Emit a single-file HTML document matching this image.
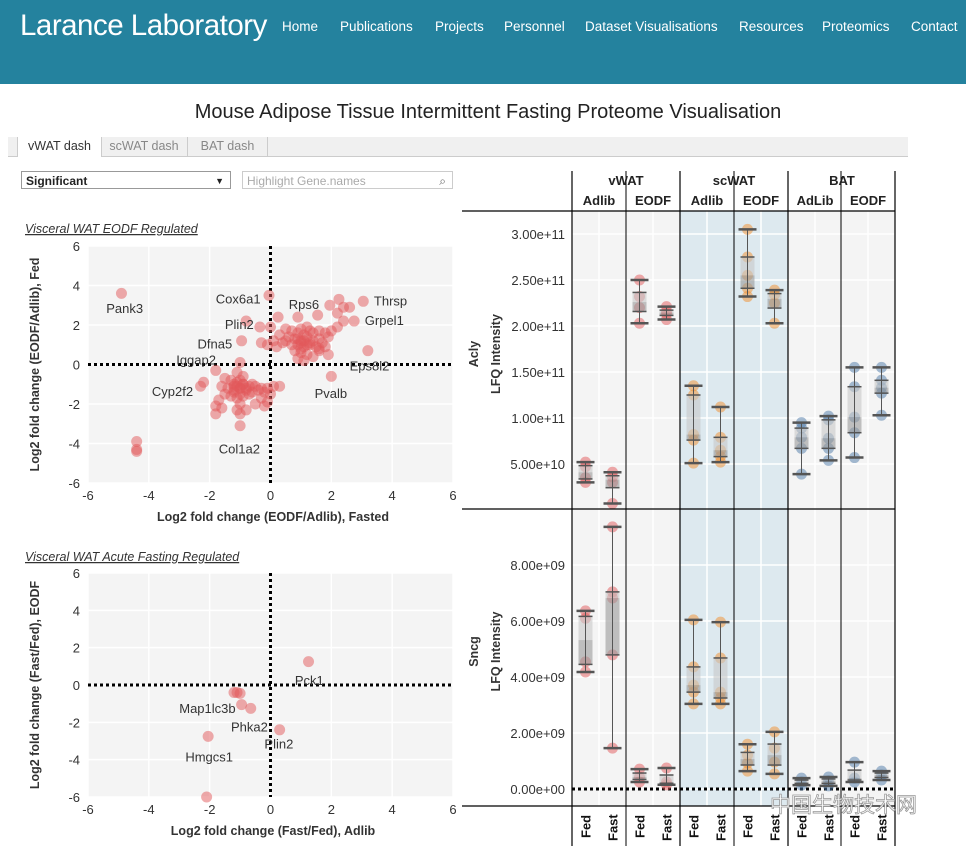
<!DOCTYPE html>
<html><head><meta charset="utf-8">
<style>
body{margin:0;width:966px;height:846px;overflow:hidden;background:#fff;font-family:"Liberation Sans",sans-serif;position:relative}
#hdr{position:absolute;left:0;top:0;width:966px;height:84px;background:#24829e}
#hdr .t{position:absolute;left:20px;top:9px;color:#fff;font-size:29.5px;letter-spacing:-0.5px}
#hdr .n{position:absolute;top:19px;color:#fff;font-size:13.5px}
.title{position:absolute;top:101px;left:0;width:976px;text-align:center;font-size:20px;color:#222}
#tabs{position:absolute;left:8px;top:137px;width:900px;height:19px;background:#f0f0f0;border-bottom:1px solid #ccc}
.tab{position:absolute;top:0;height:19px;line-height:19px;font-size:12.5px;color:#888;border-right:1px solid #ccc;text-align:center}
.ctl{position:absolute;top:171px;height:18px;border:1px solid #999;font-size:12px;line-height:18px;padding-left:4px;box-sizing:border-box}
svg{position:absolute;left:0;top:0}
</style></head><body>
<div id="hdr">
<div class="t">Larance Laboratory</div>
<div class="n" style="left:282px">Home</div>
<div class="n" style="left:340px">Publications</div>
<div class="n" style="left:435px">Projects</div>
<div class="n" style="left:504px">Personnel</div>
<div class="n" style="left:585px">Dataset Visualisations</div>
<div class="n" style="left:739px">Resources</div>
<div class="n" style="left:822px">Proteomics</div>
<div class="n" style="left:911px">Contact</div>
</div>
<div class="title">Mouse Adipose Tissue Intermittent Fasting Proteome Visualisation</div>
<div id="tabs">
<div class="tab" style="left:9px;width:83px;background:#fff;color:#333;border-left:1px solid #ccc;height:20px">vWAT dash</div>
<div class="tab" style="left:93px;width:86px">scWAT dash</div>
<div class="tab" style="left:180px;width:79px">BAT dash</div>
</div>
<div class="ctl" style="left:21px;width:210px;font-weight:bold;color:#222">Significant<span style="position:absolute;right:6px;font-size:9px">▼</span></div>
<div class="ctl" style="left:242px;width:211px;border-color:#ccc;color:#aaa">Highlight Gene.names<span style="position:absolute;right:6px;color:#666">⌕</span></div>
<svg id="s" width="966" height="846"></svg>
<script>
// ---- scatter 1 data ----
const s1x=[-4.9,-4.4,-4.4,-4.4,-0.05,-0.8,-0.95,-1.0,-2.3,-2.2,-1.0,2.0,3.2,3.05,2.75,2.25,1.95,2.6,2.4,2.2,2.4,1.55,0.25,0.9,0.0,-0.35,0.5,0.7,1.0,1.2,1.4,1.6,1.8,1.9,0.3,0.6,0.8,1.0,1.2,1.4,1.6,1.7,0.1,0.4,0.7,0.9,1.1,1.3,1.5,-0.3,-0.1,0.2,0.5,1.0,1.2,0.8,1.6,0.9,1.1,1.4,1.6,2.0,2.2,1.9,1.8,1.1,0.9,1.3,-1.1,-0.9,-1.8,-1.5,-1.3,-1.1,-0.9,-0.7,-0.5,-0.3,-0.1,0.1,0.3,-1.6,-1.4,-1.2,-1.0,-0.8,-0.6,-0.4,-0.2,0.0,-1.3,-1.1,-0.9,-0.7,-1.5,-1.7,-1.8,-1.6,-1.0,-1.1,-0.8,-0.5,-0.2,-0.1,-1.8,-1.0,-0.3,-1.2,-1.0,-1.2,-1.0,-0.8,-0.6,1.0,1.1,1.2,0.9,1.3,1.0,-1.1,-1.0,-0.9,-1.2];
const s1y=[3.6,-3.9,-4.3,-4.4,3.5,2.2,1.2,0.1,-1.1,-0.9,-3.1,-0.6,0.7,3.2,2.2,3.3,3.0,2.9,2.9,2.6,2.2,2.5,2.4,2.4,1.9,1.9,1.8,1.7,1.8,1.9,1.6,1.7,1.6,1.4,1.5,1.4,1.3,1.2,1.4,1.2,1.3,1.1,1.2,1.1,1.0,1.0,0.9,1.0,0.9,1.1,1.0,0.9,1.2,0.6,0.5,0.7,0.8,0.3,0.2,0.4,0.7,1.7,1.9,0.5,0.9,1.5,1.6,1.7,-0.4,-0.6,-0.3,-0.7,-0.8,-0.9,-1.0,-1.1,-1.1,-1.2,-1.2,-1.1,-1.1,-1.1,-1.2,-1.3,-1.2,-1.3,-1.4,-1.3,-1.4,-1.5,-1.6,-1.7,-1.6,-1.5,-1.5,-1.8,-2.1,-2.2,-2.0,-2.3,-2.3,-2.0,-2.1,-1.9,-2.5,-2.5,-1.7,-1.0,-0.8,-1.4,-1.5,-1.2,-1.0,1.1,1.2,1.0,1.3,1.1,0.8,-1.1,-1.2,-1.0,-1.1];
const s1labels=["Pank3","Cox6a1","Plin2","Dfna5","Iggap2","Cyp2f2","Col1a2","Pvalb","Eps8l2","Thrsp","Grpel1","Rps6"];
const s1lx=[-5.4,-1.8,-1.5,-2.4,-3.1,-3.9,-1.7,1.45,2.6,3.4,3.1,0.6];
const s1ly=[2.6,3.1,1.8,0.8,0.0,-1.6,-4.5,-1.7,-0.3,3.0,2.0,2.8];
// ---- scatter 2 data ----
const s2x=[1.25,-1.2,-1.1,-1.0,-0.95,-0.65,0.3,-2.05,-2.1];
const s2y=[1.25,-0.4,-0.4,-0.45,-1.05,-1.25,-2.4,-2.75,-6.0];
const s2labels=["Pck1","Map1lc3b","Phka2","Plin2","Hmgcs1"];
const s2lx=[0.8,-3.0,-1.3,-0.2,-2.8];
const s2ly=[0.0,-1.5,-2.5,-3.4,-4.1];
// ---- box plot data (Acly e9, Sncg e9) ----
const groups=["vWAT","scWAT","BAT"];
const diets=["Adlib","EODF","Adlib","EODF","AdLib","EODF"];
const conds=["Fed","Fast"];
const aclyVals=[[52,47,35,30],[41,36,30,7],[250,232,220,203],[221,216,213,207],[135,125,82,76,51],[112,79,65,58,52],[305,275,255,241,232],[239,234,225,203],[95,89,79,67,39],[102,98,78,67,54],[155,134,101,84,57],[155,141,133,127,103]];
const sncgVals=[[6.36,6.1,4.54,4.18],[9.36,7.04,6.82,4.79,1.46],[0.71,0.43,0.25],[0.75,0.25,0.15],[6.04,4.36,3.71,3.46,3.04],[5.96,4.68,3.46,3.25,3.04],[1.6,1.21,0.93,0.64],[2.04,1.46,0.96,0.54],[0.39,0.25,0.14],[0.43,0.29,0.11],[0.96,0.39,0.25],[0.64,0.5,0.32]];
const aclyTicks=[50,100,150,200,250,300];
const aclyTickLabels=["5.00e+10","1.00e+11","1.50e+11","2.00e+11","2.50e+11","3.00e+11"];
const sncgTicks=[0,2,4,6,8];
const sncgTickLabels=["0.00e+00","2.00e+09","4.00e+09","6.00e+09","8.00e+09"];
const scTicks=[-6,-4,-2,0,2,4,6];

const svg=document.getElementById('s');
const NS='http://www.w3.org/2000/svg';
function mk(t,a,p){const e=document.createElementNS(NS,t);for(const k in a)e.setAttribute(k,a[k]);(p||svg).appendChild(e);return e;}
function tx(x,y,s,a){const e=mk('text',Object.assign({x:x,y:y,'font-family':'Liberation Sans, sans-serif','font-size':12.5,fill:'#333'},a||{}));e.textContent=s;return e;}

function scatter(top,bot,xs,ys,lab,lx,ly,title,ytitle,xtitle,ttlY,name){
  const L=88,R=453;
  const sx=v=>L+(v+6)*(R-L)/12, sy=v=>bot-(v+6)*(bot-top)/12;
  let e=tx(25,ttlY,title,{'font-style':'italic','font-size':12.5,'text-decoration':'underline','fill':'#333'});
  
  
  e=mk('rect',{x:L,y:top,width:R-L,height:bot-top,fill:'#f4f4f4'});
  
  
  scTicks.forEach(t=>{
    mk('line',{x1:sx(t),x2:sx(t),y1:top,y2:bot,stroke:'#fff','stroke-width':1.5});
    mk('line',{x1:L,x2:R,y1:sy(t),y2:sy(t),stroke:'#fff','stroke-width':1.5});
    e=tx(sx(t),bot+17,String(t),{'text-anchor':'middle','font-size':13});
    
    
    e=tx(80,sy(t)+5,String(t),{'text-anchor':'end','font-size':13});
    
    
  });
  mk('line',{x1:L,x2:R,y1:sy(0),y2:sy(0),stroke:'#000','stroke-width':3,'stroke-dasharray':'3 3'});
  mk('line',{x1:sx(0),x2:sx(0),y1:top,y2:bot,stroke:'#000','stroke-width':3,'stroke-dasharray':'3 3'});
  xs.forEach((v,i)=>{
    e=mk('circle',{cx:sx(v),cy:sy(ys[i]),r:5.5,fill:'#e15759','fill-opacity':0.5});
    
    
  });
  lab.forEach((s,i)=>{
    e=tx(sx(lx[i]),sy(ly[i]),s,{'font-size':13,fill:'#333'});
    
    
  });
  e=tx(273,bot+38,xtitle,{'text-anchor':'middle','font-weight':'bold','font-size':12.5});
  
  
  e=tx(0,0,ytitle,{'text-anchor':'middle','font-weight':'bold','font-size':12.5,transform:`translate(39,${(top+bot)/2}) rotate(-90)`});
  
  
}
scatter(246,483,s1x,s1y,s1labels,s1lx,s1ly,'Visceral WAT EODF Regulated','Log2 fold change (EODF/Adlib), Fed','Log2 fold change (EODF/Adlib), Fasted',233,'scatter-eodf');
scatter(573,797,s2x,s2y,s2labels,s2lx,s2ly,'Visceral WAT Acute Fasting Regulated','Log2 fold change (Fast/Fed), EODF','Log2 fold change (Fast/Fed), Adlib',561,'scatter-fasting');

const gx=[572,626,680,734,788,841,895];
const colors=['#e15759','#e15759','#f28e2b','#f28e2b','#4e79a7','#4e79a7'];
let e=mk('rect',{x:572,y:211,width:323,height:595,fill:'#f4f4f4'});


mk('rect',{x:680,y:211,width:108,height:595,fill:'#dde9ef'});
for(let g=0;g<6;g++){mk('line',{x1:gx[g]+27,x2:gx[g]+27,y1:211,y2:806,stroke:'#fff','stroke-width':1.5});}
function quant(a,q){const s=a.slice().sort((x,y)=>x-y);const p=(s.length-1)*q;const i=Math.floor(p);return s[i]+(s[Math.min(i+1,s.length-1)]-s[i])*(p-i);}
function panel(vals,sy,ticks,tlabels,gene,top,bot,zeroLine){
  ticks.forEach((t,i)=>{
    mk('line',{x1:572,x2:895,y1:sy(t),y2:sy(t),stroke:'#fff','stroke-width':1.5});
    e=tx(565,sy(t)+5,tlabels[i],{'text-anchor':'end','font-size':13});
    
    
  });
  if(zeroLine)mk('line',{x1:572,x2:895,y1:sy(0),y2:sy(0),stroke:'#000','stroke-width':3,'stroke-dasharray':'3 3'});
  vals.forEach((arr,c)=>{
    const xc=gx[Math.floor(c/2)]+(c%2?40.5:13.5);
    const col=colors[Math.floor(c/2)];
    const mn=Math.min(...arr),mx=Math.max(...arr),q1=quant(arr,0.25),md=quant(arr,0.5),q3=quant(arr,0.75);
    arr.forEach(v=>{e=mk('circle',{cx:xc,cy:sy(v),r:5.5,fill:col,'fill-opacity':0.5});
      
      });
    e=mk('rect',{x:xc-7,y:sy(q3),width:14,height:sy(md)-sy(q3),fill:'#c8c8c8','fill-opacity':0.6});
    
    
    e=mk('rect',{x:xc-7,y:sy(md),width:14,height:sy(q1)-sy(md),fill:'#999','fill-opacity':0.6});
    
    
    mk('line',{x1:xc,x2:xc,y1:sy(mx),y2:sy(mn),stroke:'#555','stroke-width':1});
    [mn,mx].forEach(v=>mk('line',{x1:xc-9,x2:xc+9,y1:sy(v),y2:sy(v),stroke:'#555','stroke-width':2.5}));
    [q1,q3].forEach(v=>mk('line',{x1:xc-7,x2:xc+7,y1:sy(v),y2:sy(v),stroke:'#555','stroke-width':1.5}));
  });
  e=tx(0,0,gene,{'text-anchor':'middle','font-weight':'bold','font-size':12.5,transform:`translate(478,${(top+bot)/2-6}) rotate(-90)`});
  
  
  e=tx(0,0,'LFQ Intensity',{'text-anchor':'middle','font-weight':'bold','font-size':12.5,transform:`translate(500,${(top+bot)/2-6}) rotate(-90)`});
  
  
}
panel(aclyVals,v=>510-v/50*46,aclyTicks,aclyTickLabels,'Acly',211,509,false);
panel(sncgVals,v=>789-v*28,sncgTicks,sncgTickLabels,'Sncg',509,806,true);
[211,509,806].forEach(y=>mk('line',{x1:462,x2:895,y1:y,y2:y,stroke:'#000','stroke-width':1.2}));
gx.forEach((x,i)=>mk('line',{x1:x,x2:x,y1:171,y2:846,stroke:'#000','stroke-width':(i%2==0?1.2:1)}));
groups.forEach((g,i)=>{e=tx(gx[i*2]+54,185,g,{'text-anchor':'middle','font-size':13,'font-weight':'bold',fill:'#222'});
  
  });
diets.forEach((d,i)=>{e=tx(gx[i]+27,205,d,{'text-anchor':'middle','font-size':13,'font-weight':'bold',fill:'#222'});
  
  });
for(let c=0;c<12;c++){const xc=gx[Math.floor(c/2)]+(c%2?40.5:13.5);
  e=tx(0,0,conds[c%2],{'font-size':13,'font-weight':'bold',fill:'#111',transform:`translate(${xc+5},${c%2?841:838}) rotate(-90)`});
  
  }
e=tx(770,812,'中国生物技术网',{'font-family':'Noto Sans CJK SC, sans-serif','font-size':21,fill:'#fff',stroke:'#999','stroke-width':0.8});


</script>
</body></html>
